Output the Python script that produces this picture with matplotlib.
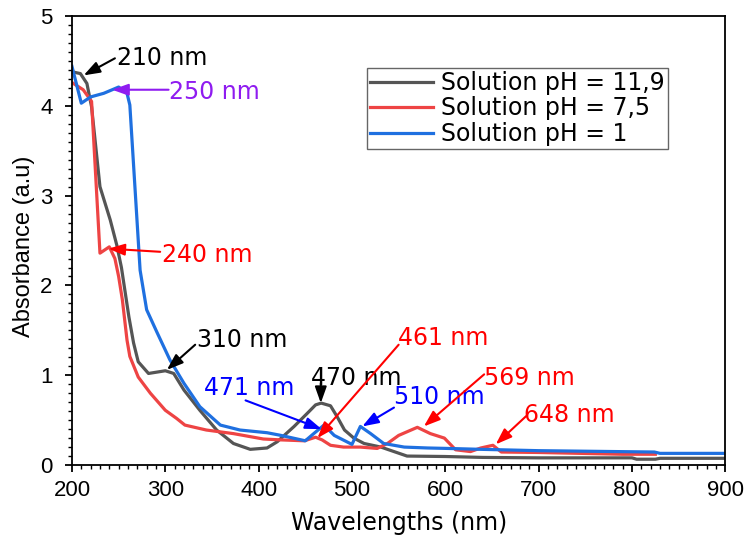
import matplotlib
matplotlib.use("Agg")
import matplotlib.pyplot as plt
from matplotlib.ticker import MultipleLocator

plt.rcParams['font.family'] = ['Liberation Sans', 'DejaVu Sans']
WIDE = ['DejaVu Sans']  # the reference's annotation / legend text is stretched wide

# pH 11,9
wl_ph11 = [200, 209, 216, 221, 230, 241, 248, 253, 261, 266, 271, 282, 300, 309, 320,
           337, 355, 373, 391, 409, 420, 438, 452, 461, 467, 477, 484, 492, 502, 513,
           531, 545, 559, 600, 640, 700, 800, 805, 825, 830, 900]
abs_ph11 = [4.38, 4.36, 4.25, 3.99, 3.10, 2.73, 2.45, 2.20, 1.65, 1.36, 1.15, 1.02, 1.05, 1.02, 0.835,
            0.61, 0.39, 0.24, 0.175, 0.19, 0.26, 0.43, 0.575, 0.67, 0.69, 0.66, 0.54, 0.39, 0.30, 0.24,
            0.20, 0.15, 0.10, 0.095, 0.085, 0.08, 0.08, 0.065, 0.065, 0.075, 0.075]

# pH 7,5
wl_ph7 = [200, 212, 221, 230, 240, 246, 250, 254, 259, 262, 271, 284, 300, 312, 321,
          344, 373, 405, 424, 449, 461, 468, 477, 491, 509, 527, 538, 550, 570, 584,
          599, 611, 627, 638, 651, 660, 700, 790, 825]
abs_ph7 = [4.26, 4.18, 4.05, 2.36, 2.43, 2.30, 2.10, 1.84, 1.39, 1.21, 0.98, 0.80, 0.61, 0.52, 0.445,
           0.39, 0.35, 0.29, 0.28, 0.27, 0.31, 0.28, 0.22, 0.20, 0.20, 0.185, 0.24, 0.33, 0.42, 0.35,
           0.30, 0.17, 0.15, 0.19, 0.22, 0.145, 0.14, 0.12, 0.12]

# pH 1
wl_ph1 = [200, 210, 220, 234, 250, 259, 262, 273, 280, 291, 305, 320, 337, 359, 380,
          409, 424, 450, 459, 470, 481, 500, 509, 520, 534, 556, 581, 602, 638, 700,
          824, 830, 900]
abs_ph1 = [4.44, 4.03, 4.10, 4.14, 4.21, 4.14, 4.01, 2.17, 1.73, 1.48, 1.17, 0.91, 0.65, 0.445, 0.39,
           0.36, 0.33, 0.27, 0.35, 0.445, 0.33, 0.23, 0.43, 0.35, 0.24, 0.20, 0.19, 0.185, 0.175, 0.16,
           0.145, 0.13, 0.13]

# label, colour, text (x, y), arrow tail, arrow head
peak_labels = [
    ("210 nm", "black", (248, 4.53), (246, 4.53), (212.5, 4.34)),
    ("250 nm", "#8f1cf0", (304, 4.16), (303.5, 4.18), (243, 4.18)),
    ("240 nm", "red", (296, 2.34), (294.5, 2.375), (239, 2.41)),
    ("310 nm", "black", (334, 1.39), (332, 1.34), (301.7, 1.06)),
    ("471 nm", "blue", (341, 0.86), (386, 0.72), (467.5, 0.40)),
    ("470 nm", "black", (456, 0.97), (466.6, 0.91), (466.6, 0.69)),
    ("461 nm", "red", (549, 1.41), (550, 1.34), (463, 0.30)),
    ("510 nm", "blue", (545, 0.76), (545, 0.64), (511, 0.43)),
    ("569 nm", "red", (641, 0.97), (641.6, 1.01), (577, 0.43)),
    ("648 nm", "red", (684, 0.56), (686.6, 0.545), (654, 0.23)),
]

fig = plt.figure(figsize=(7.45, 5.37), dpi=100)
ax = fig.add_axes([0.0966, 0.134, 0.877, 0.836])

ax.plot(wl_ph11, abs_ph11, color="#555555", lw=2.3, label="Solution pH = 11,9")
ax.plot(wl_ph7, abs_ph7, color="#ee4444", lw=2.3, label="Solution pH = 7,5")
ax.plot(wl_ph1, abs_ph1, color="#1f70e0", lw=2.3, label="Solution pH = 1")

for text, col, pos, tail, head in peak_labels:
    ax.annotate("", xy=head, xytext=tail,
                arrowprops=dict(arrowstyle="-|>,head_length=0.7,head_width=0.25",
                                color=col, lw=1.5, shrinkA=0, shrinkB=0, mutation_scale=14))
    ax.text(pos[0], pos[1], text, color=col, fontsize=17, family=WIDE,
            ha="left", va="center")

ax.set_xlim(200, 900)
ax.set_ylim(0, 5)
ax.xaxis.set_major_locator(MultipleLocator(100))
ax.xaxis.set_minor_locator(MultipleLocator(10))
ax.yaxis.set_major_locator(MultipleLocator(1))
ax.yaxis.set_minor_locator(MultipleLocator(0.1))
ax.tick_params(which="major", direction="out", length=5, width=1.3, labelsize=16)
ax.tick_params(axis="y", which="major", pad=9)
ax.tick_params(axis="x", which="major", pad=6)
ax.tick_params(which="minor", direction="out", length=3, width=1)
for s in ax.spines.values():
    s.set_linewidth(1.3)

ax.set_xlabel("Wavelengths (nm)", fontsize=17, family=WIDE)
ax.xaxis.set_label_coords(0.5, -0.102)
ax.set_ylabel("Absorbance (a.u)", fontsize=17)
ax.yaxis.set_label_coords(-0.056, 0.488)

leg = ax.legend(loc="upper left", bbox_to_anchor=(0.452, 0.884),
                prop={'family': WIDE, 'size': 17},
                handlelength=2.67, handletextpad=0.34, labelspacing=0.06,
                borderpad=0.12, borderaxespad=0, fancybox=False, framealpha=1)
leg.get_frame().set_edgecolor("#666666")
leg.get_frame().set_linewidth(1)

fig.savefig("out.png", dpi=100)
